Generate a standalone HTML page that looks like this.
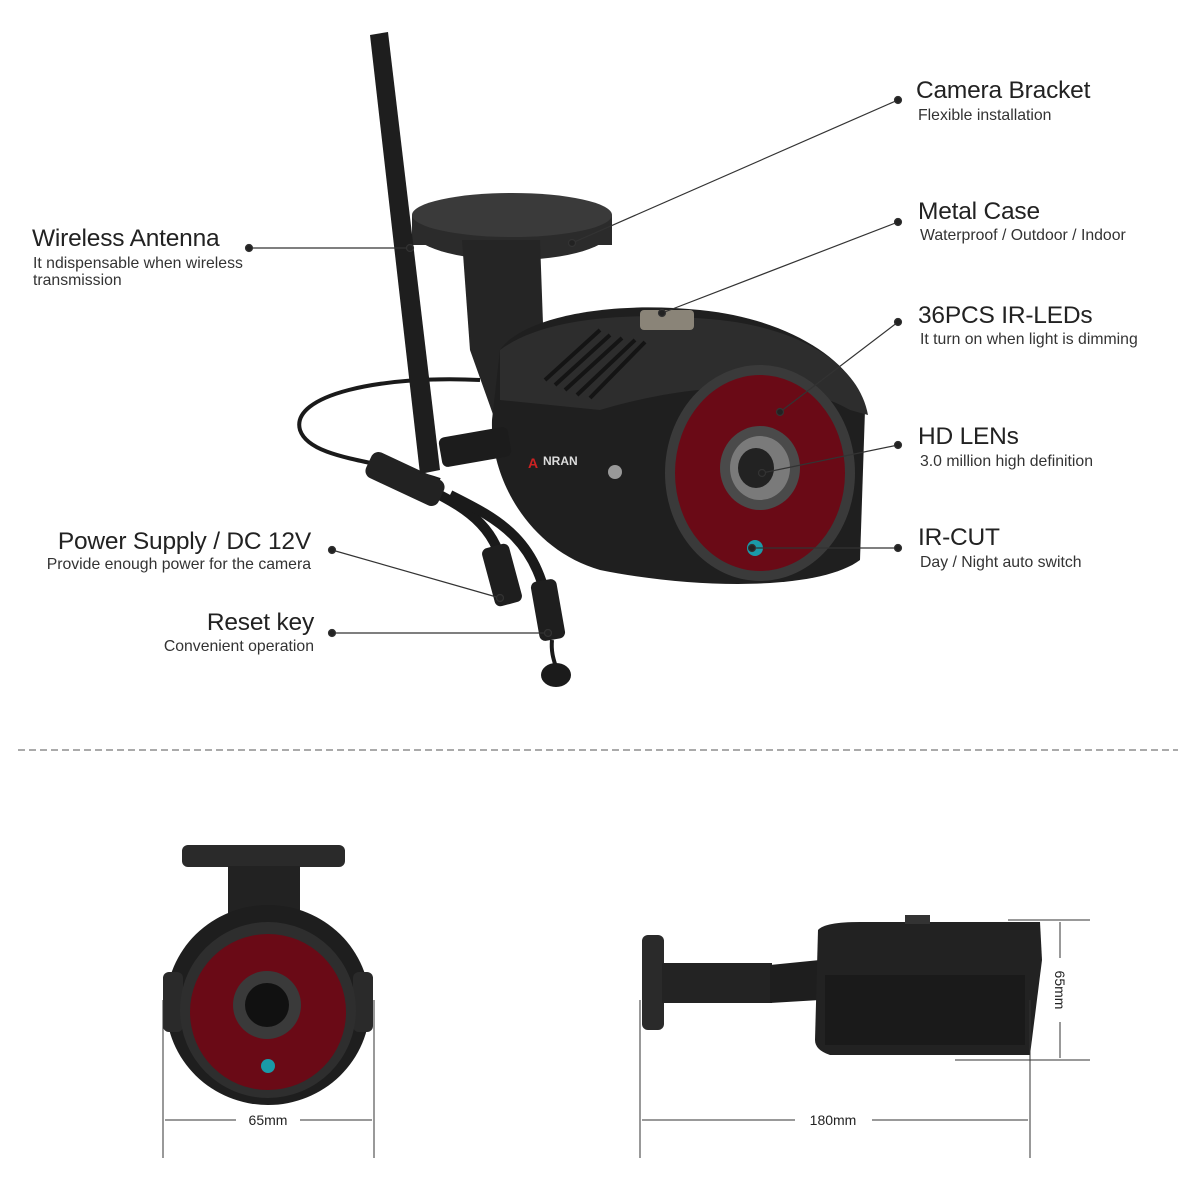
<!DOCTYPE html>
<html><head><meta charset="utf-8"><style>
html,body{margin:0;padding:0;background:#fff;}
svg{display:block;}
text{font-family:"Liberation Sans",sans-serif;fill:#222;}
.t{font-size:24.5px;letter-spacing:-0.2px;font-weight:500;}
.s{font-size:15.8px;fill:#333;}
.d{font-size:14px;fill:#222;}
</style></head><body>
<svg width="1200" height="1200" viewBox="0 0 1200 1200" xmlns="http://www.w3.org/2000/svg">
<rect width="1200" height="1200" fill="#fff"/>
<!-- cables -->
<path d="M480 380 C380 375 290 395 300 430 C310 460 380 460 440 480" stroke="#1a1a1a" stroke-width="4" fill="none"/>
<path d="M430 490 C470 510 500 530 505 580" stroke="#1a1a1a" stroke-width="10" fill="none"/>
<path d="M450 495 C500 520 540 540 550 620" stroke="#1a1a1a" stroke-width="10" fill="none"/>
<rect x="365" y="465" width="80" height="28" rx="8" fill="#222" transform="rotate(25 405 479)"/>
<rect x="488" y="545" width="28" height="60" rx="6" fill="#1e1e1e" transform="rotate(-15 502 575)"/>
<rect x="535" y="580" width="26" height="60" rx="6" fill="#1e1e1e" transform="rotate(-10 548 610)"/>
<path d="M552 640 C550 660 560 670 556 675" stroke="#1a1a1a" stroke-width="4" fill="none"/>
<ellipse cx="556" cy="675" rx="15" ry="12" fill="#1b1b1b"/>
<!-- bracket -->
<ellipse cx="512" cy="230" rx="100" ry="30" fill="#2b2b2b"/>
<rect x="412" y="215" width="200" height="30" fill="#2b2b2b"/>
<ellipse cx="512" cy="215" rx="100" ry="22" fill="#3a3a3a"/>
<path d="M462 240 L540 240 L545 380 L495 420 L470 350 Z" fill="#252525"/>
<!-- body -->
<path d="M500 350 C520 320 600 300 700 310 C800 320 860 370 865 410 L860 560 C820 590 700 590 600 570 C530 550 490 480 492 420 Z" fill="#1f1f1f"/>
<path d="M500 350 C540 320 620 310 720 320 C810 330 860 370 868 415 L850 410 C800 380 700 380 600 410 L500 400 Z" fill="#2d2d2d"/>
<rect x="640" y="310" width="54" height="20" rx="4" fill="#8a8478"/>
<g stroke="#141414" stroke-width="4"><line x1="545" y1="380" x2="600" y2="330"/><line x1="555" y1="385" x2="610" y2="335"/><line x1="565" y1="390" x2="622" y2="338"/><line x1="577" y1="395" x2="635" y2="340"/><line x1="590" y1="398" x2="645" y2="342"/></g>
<text x="528" y="468" font-size="14" font-weight="bold" style="fill:#cc2222">A</text>
<text x="543" y="465" font-size="12" font-weight="bold" style="fill:#ddd">NRAN</text>
<circle cx="615" cy="472" r="7" fill="#999"/>
<!-- front -->
<ellipse cx="760" cy="473" rx="95" ry="108" fill="#3a3a3a"/>
<ellipse cx="760" cy="473" rx="85" ry="98" fill="#6a0a16"/>
<ellipse cx="760" cy="468" rx="40" ry="42" fill="#4a4a4a"/>
<ellipse cx="760" cy="468" rx="30" ry="32" fill="#7a7a7a"/>
<ellipse cx="756" cy="468" rx="18" ry="20" fill="#222"/>
<circle cx="755" cy="548" r="8" fill="#1a9aa8"/>
<!-- antenna -->
<path d="M370 35 L388 32 L440 470 L420 474 Z" fill="#1e1e1e"/>
<rect x="440" y="432" width="70" height="30" rx="6" fill="#1c1c1c" transform="rotate(-10 475 447)"/>
<!-- leader lines -->
<g stroke="#333" stroke-width="1.2" fill="#222">
<line x1="898" y1="100" x2="572" y2="243"/><circle cx="898" cy="100" r="3.5"/><circle cx="572" cy="243" r="3.5"/>
<line x1="898" y1="222" x2="662" y2="313"/><circle cx="898" cy="222" r="3.5"/><circle cx="662" cy="313" r="3.5"/>
<line x1="898" y1="322" x2="780" y2="412"/><circle cx="898" cy="322" r="3.5"/><circle cx="780" cy="412" r="3.5"/>
<line x1="898" y1="445" x2="762" y2="473"/><circle cx="898" cy="445" r="3.5"/><circle cx="762" cy="473" r="3.5"/>
<line x1="898" y1="548" x2="752" y2="548"/><circle cx="898" cy="548" r="3.5"/><circle cx="752" cy="548" r="3.5"/>
<line x1="249" y1="248" x2="410" y2="248"/><circle cx="249" cy="248" r="3.5"/><circle cx="410" cy="248" r="3.5"/>
<line x1="332" y1="550" x2="500" y2="598"/><circle cx="332" cy="550" r="3.5"/><circle cx="500" cy="598" r="3.5"/>
<line x1="332" y1="633" x2="548" y2="633"/><circle cx="332" cy="633" r="3.5"/><circle cx="548" cy="633" r="3.5"/>
</g>
<!-- labels -->
<text class="t" x="916" y="98">Camera Bracket</text><text class="s" x="918" y="120">Flexible installation</text>
<text class="t" x="918" y="219">Metal Case</text><text class="s" x="920" y="240">Waterproof / Outdoor / Indoor</text>
<text class="t" x="918" y="323">36PCS IR-LEDs</text><text class="s" x="920" y="344">It turn on when light is dimming</text>
<text class="t" x="918" y="444">HD LENs</text><text class="s" x="920" y="466">3.0 million high definition</text>
<text class="t" x="918" y="545">IR-CUT</text><text class="s" x="920" y="567">Day / Night auto switch</text>
<text class="t" x="32" y="246">Wireless Antenna</text><text class="s" x="33" y="268">It ndispensable when wireless</text><text class="s" x="33" y="285">transmission</text>
<text class="t" x="311" y="549" text-anchor="end">Power Supply / DC 12V</text><text class="s" x="311" y="569" text-anchor="end">Provide enough power for the camera</text>
<text class="t" x="314" y="630" text-anchor="end">Reset key</text><text class="s" x="314" y="651" text-anchor="end">Convenient operation</text>
<!-- separator -->
<line x1="18" y1="750" x2="1178" y2="750" stroke="#777" stroke-width="1.2" stroke-dasharray="7,4"/>
<!-- bottom left front view -->
<rect x="182" y="845" width="163" height="22" rx="6" fill="#2a2a2a"/>
<rect x="228" y="866" width="72" height="60" fill="#222"/>
<ellipse cx="268" cy="1005" rx="102" ry="100" fill="#1e1e1e"/>
<rect x="163" y="972" width="20" height="60" rx="6" fill="#2a2a2a"/>
<rect x="353" y="972" width="20" height="60" rx="6" fill="#2a2a2a"/>
<circle cx="268" cy="1010" r="88" fill="#2e2e2e"/>
<circle cx="268" cy="1012" r="78" fill="#6a0a16"/>
<circle cx="267" cy="1005" r="34" fill="#3a3a3a"/>
<circle cx="267" cy="1005" r="22" fill="#111"/>
<circle cx="268" cy="1066" r="7" fill="#1a9aa8"/>
<g stroke="#333" stroke-width="1"><line x1="163" y1="1000" x2="163" y2="1158"/><line x1="374" y1="1000" x2="374" y2="1158"/>
<line x1="165" y1="1120" x2="236" y2="1120"/><line x1="300" y1="1120" x2="372" y2="1120"/></g>
<text class="d" x="268" y="1125" text-anchor="middle">65mm</text>
<!-- bottom right side view -->
<rect x="642" y="935" width="22" height="95" rx="6" fill="#2a2a2a"/>
<rect x="662" y="963" width="110" height="40" fill="#232323"/>
<path d="M770 965 L820 960 L820 1000 L770 1003 Z" fill="#1e1e1e"/>
<path d="M818 930 Q825 922 860 922 L1040 922 L1042 960 L1030 1055 L830 1055 Q815 1050 815 1040 Z" fill="#222"/>
<rect x="905" y="915" width="25" height="9" fill="#333"/>
<rect x="825" y="975" width="200" height="70" fill="#1a1a1a"/>
<g stroke="#333" stroke-width="1"><line x1="640" y1="1000" x2="640" y2="1158"/><line x1="1030" y1="1000" x2="1030" y2="1158"/>
<line x1="642" y1="1120" x2="795" y2="1120"/><line x1="872" y1="1120" x2="1028" y2="1120"/>
<line x1="1008" y1="920" x2="1090" y2="920"/><line x1="955" y1="1060" x2="1090" y2="1060"/>
<line x1="1060" y1="922" x2="1060" y2="958"/><line x1="1060" y1="1022" x2="1060" y2="1058"/></g>
<text class="d" x="833" y="1125" text-anchor="middle">180mm</text>
<text class="d" x="0" y="0" text-anchor="middle" transform="translate(1055 990) rotate(90)">65mm</text>
</svg>
</body></html>
